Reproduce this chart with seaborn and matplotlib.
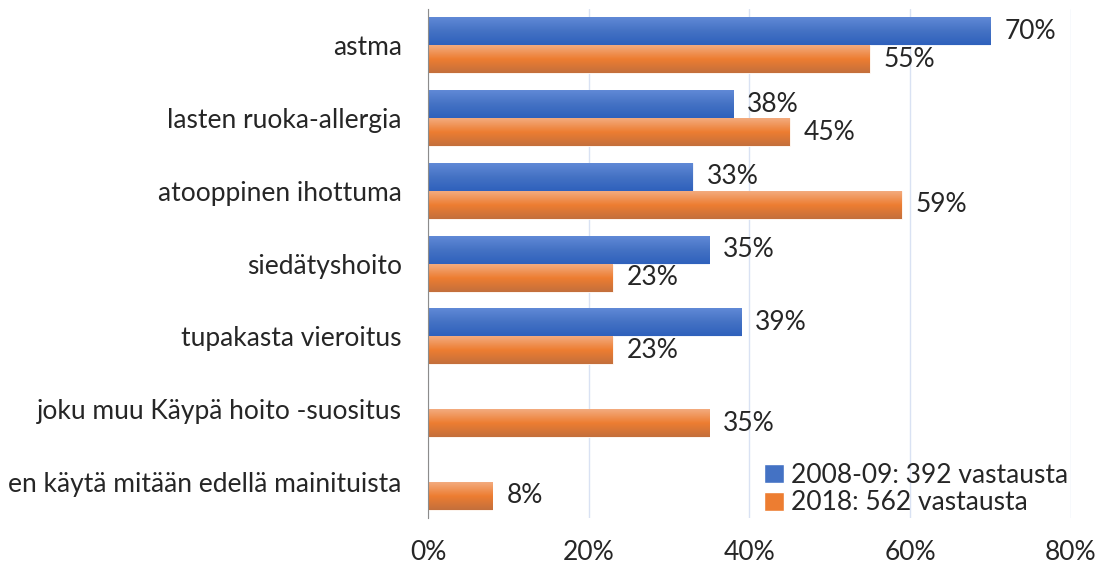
import numpy as np
import pandas as pd
import seaborn as sns
import matplotlib.pyplot as plt
from matplotlib.colors import LinearSegmentedColormap

categories = ['astma', 'lasten ruoka-allergia', 'atooppinen ihottuma', 'siedätyshoito',
              'tupakasta vieroitus', 'joku muu Käypä hoito -suositus',
              'en käytä mitään edellä mainituista']
values_2008 = [70, 38, 33, 35, 39, np.nan, np.nan]
values_2018 = [55, 45, 59, 23, 23, 35, 8]
series = ['2008-09: 392 vastausta', '2018: 562 vastausta']
colors = ['#4472C4', '#ED7D31']
xticks = [0, 20, 40, 60, 80]

df = pd.DataFrame({
    'kategoria': categories * 2,
    'osuus': values_2008 + values_2018,
    'sarja': [series[0]] * len(categories) + [series[1]] * len(categories),
})

sns.set_style('white')
plt.rcParams['font.family'] = ['Lato', 'DejaVu Sans']
fs = 19

fig, ax = plt.subplots(figsize=(10.98, 5.65), dpi=100)
fig.subplots_adjust(left=0.39, right=0.975, top=0.984, bottom=0.083)

sns.barplot(data=df, x='osuus', y='kategoria', hue='sarja', palette=colors,
            orient='h', width=0.77, saturation=1, errorbar=None, ax=ax)

# gradient fill like the original
grads = {
    0: LinearSegmentedColormap.from_list('b', ['#6089D6', '#4472C4', '#2F61BC']),
    1: LinearSegmentedColormap.from_list('o', ['#F3AB7E', '#ED7D31', '#C46F3C']),
}
yl = ax.get_ylim()
g = np.linspace(0, 1, 64).reshape(-1, 1)
for i, cont in enumerate(ax.containers):
    for p in cont.patches:
        w = p.get_width()
        if not np.isfinite(w) or w == 0:
            continue
        x, y, h = p.get_x(), p.get_y(), p.get_height()
        ax.imshow(g, extent=[x, x + w, y + h, y], origin='upper', cmap=grads[i],
                  aspect='auto', zorder=p.get_zorder() + 0.1, interpolation='bilinear')
        p.set_edgecolor('white')
        p.set_linewidth(0.6)

for cont in ax.containers:
    ax.bar_label(cont, fmt='%.0f%%', padding=10, fontsize=fs)

ax.set_xlim(0, 80)
ax.set_ylim(yl)
ax.set_xticks(xticks)
ax.set_xticklabels([f'{t}%' for t in xticks])
ax.set_xlabel('')
ax.set_ylabel('')
ax.tick_params(axis='x', length=0, pad=16, labelsize=fs)
ax.tick_params(axis='y', length=0, pad=19, labelsize=fs)
ax.xaxis.grid(True, color='#D9E2F3', linewidth=1)
ax.set_axisbelow(True)
for s in ['top', 'right', 'bottom']:
    ax.spines[s].set_visible(False)
ax.spines['left'].set_color('#8C8C8C')

ax.legend(loc='lower right', bbox_to_anchor=(1.0, 0.0), frameon=False, fontsize=fs,
          handlelength=0.75, handleheight=0.75, handletextpad=0.25, labelspacing=0.1,
          borderaxespad=0, borderpad=0.1)

plt.savefig('out.png', dpi=100)
